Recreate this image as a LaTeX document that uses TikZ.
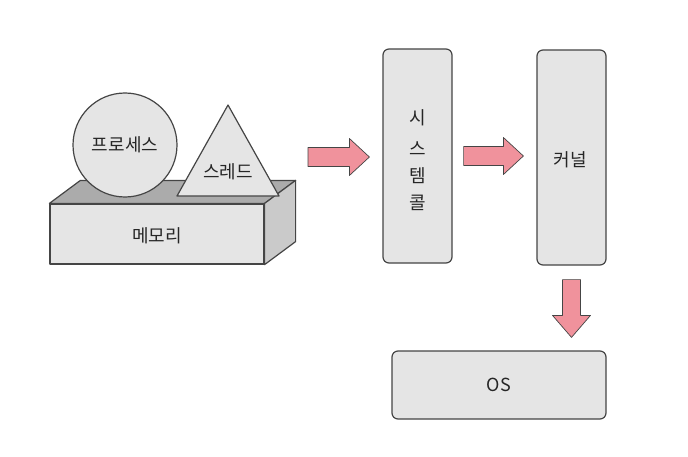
\documentclass[tikz,border=0pt]{standalone}
\usepackage{fontspec}
\setmainfont{Noto Sans CJK KR}
\usepackage{tikz}
\usetikzlibrary{calc,positioning}
\definecolor{boxgray}{HTML}{E5E5E5}
\definecolor{topgray}{HTML}{ABABAB}
\definecolor{sidegray}{HTML}{CACACA}
\definecolor{linegray}{HTML}{454545}
\definecolor{arrowpink}{HTML}{F0929C}
\tikzset{
  block/.style={draw=linegray,fill=boxgray,line width=1.2pt,rounded corners=6pt,inner sep=0pt},
  solid3d/.style={draw=linegray,line width=1.2pt,line join=round},
  pinkarrow/.style={draw=linegray,fill=arrowpink,line width=0.7pt,line join=round},
  txt/.style={font=\fontsize{18}{27}\selectfont,text=black!85}
}

\begin{document}
\begin{tikzpicture}[x=1pt,y=1pt]
    \useasboundingbox (0,0) rectangle (688,456);
    % memory block with process and thread on top
    \node[solid3d,fill=boxgray,minimum width=214pt,minimum height=60pt] (mem) at (157,222) {};
    \filldraw[solid3d,fill=topgray] (mem.north west) -- ++(31,23) -- ($(mem.north east)+(31,23)$) -- (mem.north east) -- cycle;
    \filldraw[solid3d,fill=sidegray] (mem.north east) -- ++(31,23) -- ($(mem.south east)+(31,23)$) -- (mem.south east) -- cycle;
    \node[txt] (memlabel) at (157,220) {메모리};
    \node[draw=linegray,fill=boxgray,line width=1.2pt,circle,minimum size=104pt] (proc) at (125,311) {};
    \node[txt] (proclabel) at (proc) {프로세스};
    \draw[solid3d,fill=boxgray] (177,260) -- (228,351) -- (279,260) -- cycle;
    \node[txt] (thread) at (228,284) {스레드};

    \node[block,minimum width=69pt,minimum height=214pt] (sys) at (417.5,300) {};
    \node[txt,align=center] (syslabel) at (417.5,296) {시\\[4pt]스\\템\\콜};
    \node[block,minimum width=69pt,minimum height=215pt] (kern) at (571.5,298.5) {};
    \node[txt] (kernlabel) at (570,296) {커널};
    \node[block,minimum width=214pt,minimum height=68pt] (os) at (499,71) {};
    \node[txt] (oslabel) at (os) {OS};

    \coordinate (a1s) at (308,299);
    \coordinate (a1e) at ($(sys.west)+(-13,0)$);
    \coordinate (a2s) at ($(sys.east)+(11,0)$);
    \coordinate (a2e) at ($(kern.west)+(-13,0)$);
    \coordinate (a3s) at ($(kern.south)+(0,-14)$);
    \coordinate (a3e) at ($(os.north)+(72,13)$);
    \draw[pinkarrow] let \p1=(a1s), \p2=(a1e) in
      (\x1,\y1+9.5pt) -- (\x2-20pt,\y1+9.5pt) -- (\x2-20pt,\y1+18.5pt) -- (\x2,\y1)
      -- (\x2-20pt,\y1-18.5pt) -- (\x2-20pt,\y1-9.5pt) -- (\x1,\y1-9.5pt) -- cycle;
    \draw[pinkarrow] let \p1=(a2s), \p2=(a2e) in
      (\x1,\y1+9.5pt) -- (\x2-20pt,\y1+9.5pt) -- (\x2-20pt,\y1+18.5pt) -- (\x2,\y1)
      -- (\x2-20pt,\y1-18.5pt) -- (\x2-20pt,\y1-9.5pt) -- (\x1,\y1-9.5pt) -- cycle;
    \draw[pinkarrow] let \p1=(a3s), \p2=(a3e) in
      (\x1-9pt,\y1) -- (\x1-9pt,\y2+22pt) -- (\x1-19pt,\y2+22pt) -- (\x1,\y2)
      -- (\x1+19pt,\y2+22pt) -- (\x1+9pt,\y2+22pt) -- (\x1+9pt,\y1) -- cycle;
\end{tikzpicture}
\end{document}
